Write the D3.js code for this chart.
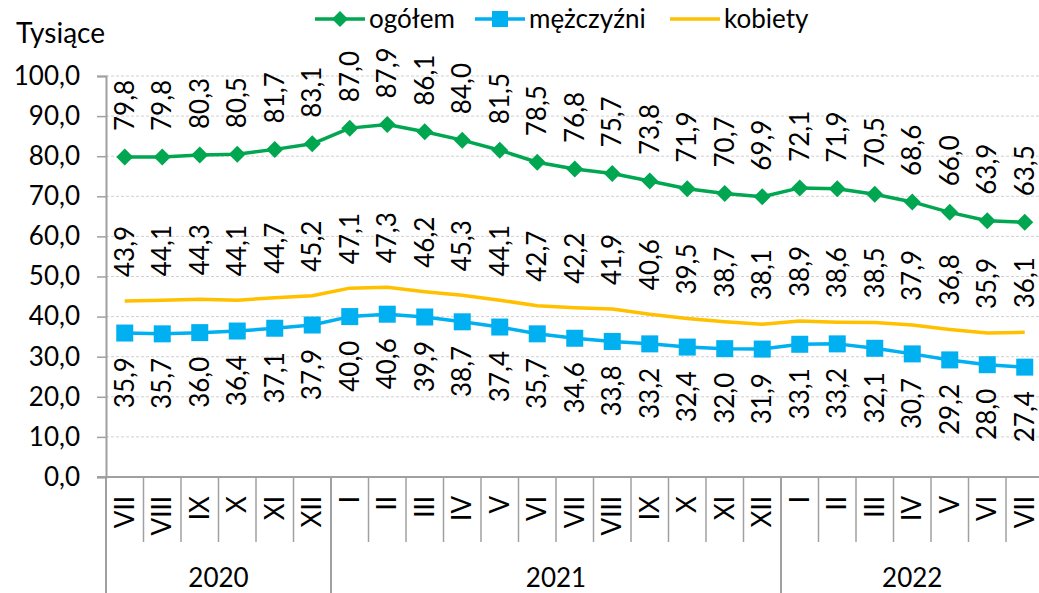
<!DOCTYPE html>
<html>
<head>
  <script src="https://d3js.org/d3.v7.min.js"></script>
  <style>
    body { margin: 0; background: #fff; }
    text { font-family: Lato, "Open Sans", sans-serif; fill: #000; }
  </style>
</head>
<body>
  <script>
    // Data
    const months = ["VII","VIII","IX","X","XI","XII","I","II","III","IV","V","VI","VII","VIII","IX","X","XI","XII","I","II","III","IV","V","VI","VII"];
    const years = [
      {label: "2020", from: 0, to: 5},
      {label: "2021", from: 6, to: 17},
      {label: "2022", from: 18, to: 24}
    ];
    const ogolem = [79.8,79.8,80.3,80.5,81.7,83.1,87.0,87.9,86.1,84.0,81.5,78.5,76.8,75.7,73.8,71.9,70.7,69.9,72.1,71.9,70.5,68.6,66.0,63.9,63.5];
    const mezczyzni = [35.9,35.7,36.0,36.4,37.1,37.9,40.0,40.6,39.9,38.7,37.4,35.7,34.6,33.8,33.2,32.4,32.0,31.9,33.1,33.2,32.1,30.7,29.2,28.0,27.4];
    const kobiety = [43.9,44.1,44.3,44.1,44.7,45.2,47.1,47.3,46.2,45.3,44.1,42.7,42.2,41.9,40.6,39.5,38.7,38.1,38.9,38.6,38.5,37.9,36.8,35.9,36.1];
    const yTicks = [0,10,20,30,40,50,60,70,80,90,100];

    const W = 1039, H = 593;
    const pLeft = 106, pRight = 1043.5, pTop = 76, pBottom = 477;
    const fs = 26;
    const fmt = v => d3.format(".1f")(v).replace(".", ",");

    const svg = d3.select("body").append("svg")
      .attr("width", W).attr("height", H);

    const idx = months.map((m, i) => i);
    const x = d3.scaleBand().domain(idx).range([pLeft, pRight]).padding(0);
    const y = d3.scaleLinear().domain([0, 100]).range([pBottom, pTop]);
    const cx = i => x(i) + x.bandwidth() / 2;

    // Gridlines
    svg.append("g").selectAll("line")
      .data(yTicks.filter(d => d > 0))
      .join("line")
        .attr("x1", pLeft).attr("x2", pRight)
        .attr("y1", d => y(d)).attr("y2", d => y(d))
        .attr("stroke", "#d0d0d0").attr("stroke-dasharray", "3,2");

    // Y axis
    const yAxis = svg.append("g")
      .attr("transform", `translate(${pLeft},0)`)
      .call(d3.axisLeft(y).tickValues(yTicks).tickFormat(fmt).tickSize(9).tickPadding(17));
    yAxis.select(".domain").attr("stroke", "#a0a0a0").attr("stroke-width", 2);
    yAxis.selectAll(".tick line").attr("stroke", "#a0a0a0").attr("stroke-width", 1.5);
    yAxis.selectAll(".tick text").attr("font-size", fs).attr("font-family", "Lato");

    // X axis line
    svg.append("line")
      .attr("x1", pLeft - 9).attr("x2", pRight)
      .attr("y1", pBottom).attr("y2", pBottom)
      .attr("stroke", "#a0a0a0").attr("stroke-width", 2);

    // Month separators
    svg.append("g").selectAll("line")
      .data(idx.slice(1))
      .join("line")
        .attr("x1", d => x(d)).attr("x2", d => x(d))
        .attr("y1", pBottom).attr("y2", 542)
        .attr("stroke", "#a0a0a0").attr("stroke-width", 1.5);

    // Year separators
    const yearEdges = [0, 6, 18];
    svg.append("g").selectAll("line")
      .data(yearEdges)
      .join("line")
        .attr("x1", d => x(d)).attr("x2", d => x(d))
        .attr("y1", pBottom).attr("y2", H)
        .attr("stroke", "#a0a0a0").attr("stroke-width", 2);

    // Month labels
    svg.append("g").selectAll("text")
      .data(months)
      .join("text")
        .attr("transform", (d, i) => `translate(${cx(i) + 9},496) rotate(-90)`)
        .attr("text-anchor", "end")
        .attr("font-size", fs)
        .text(d => d);

    // Year labels
    svg.append("g").selectAll("text")
      .data(years)
      .join("text")
        .attr("x", d => (x(d.from) + x(d.to) + x.bandwidth()) / 2)
        .attr("y", 587)
        .attr("text-anchor", "middle")
        .attr("font-size", fs)
        .text(d => d.label);

    // Axis title
    svg.append("text")
      .attr("x", 16).attr("y", 43)
      .attr("font-size", 28)
      .text("Tysiące");

    const line = d3.line().x((d, i) => cx(i)).y(d => y(d));

    const series = [
      {name: "ogółem", values: ogolem, color: "#00A650", marker: "diamond", labelPos: "above", off: 26},
      {name: "mężczyźni", values: mezczyzni, color: "#00B0F0", marker: "square", labelPos: "below", off: 24},
      {name: "kobiety", values: kobiety, color: "#FFC000", marker: "none", labelPos: "above", off: 24}
    ];

    // Draw order: kobiety, mężczyźni, ogółem
    [series[2], series[1], series[0]].forEach(s => {
      svg.append("path")
        .datum(s.values)
        .attr("fill", "none")
        .attr("stroke", s.color)
        .attr("stroke-width", 3.5)
        .attr("stroke-linejoin", "round")
        .attr("d", line);

      if (s.marker === "diamond") {
        svg.append("g").selectAll("path")
          .data(s.values)
          .join("path")
            .attr("transform", (d, i) => `translate(${cx(i)},${y(d)})`)
            .attr("d", "M0,-8.5L8.5,0L0,8.5L-8.5,0Z")
            .attr("fill", s.color);
      } else if (s.marker === "square") {
        svg.append("g").selectAll("rect")
          .data(s.values)
          .join("rect")
            .attr("x", (d, i) => cx(i) - 8.5)
            .attr("y", d => y(d) - 8.5)
            .attr("width", 17).attr("height", 17)
            .attr("fill", s.color);
      }

      // Data labels
      svg.append("g").selectAll("text")
        .data(s.values)
        .join("text")
          .attr("transform", (d, i) => {
            const yy = s.labelPos === "above" ? y(d) - s.off : y(d) + s.off;
            return `translate(${cx(i) + 9},${yy}) rotate(-90)`;
          })
          .attr("text-anchor", s.labelPos === "above" ? "start" : "end")
          .attr("font-size", fs)
          .text(d => fmt(d));
    });

    // Legend
    const legend = svg.append("g");
    const legendItems = [
      {s: series[0], x: 315, tx: 369},
      {s: series[1], x: 475, tx: 529},
      {s: series[2], x: 670, tx: 724}
    ];
    legendItems.forEach(it => {
      const g = legend.append("g");
      g.append("line")
        .attr("x1", it.x).attr("x2", it.x + 50)
        .attr("y1", 19).attr("y2", 19)
        .attr("stroke", it.s.color).attr("stroke-width", 3.5);
      if (it.s.marker === "diamond") {
        g.append("path")
          .attr("transform", `translate(${it.x + 25},19)`)
          .attr("d", "M0,-8L8,0L0,8L-8,0Z")
          .attr("fill", it.s.color);
      } else if (it.s.marker === "square") {
        g.append("rect")
          .attr("x", it.x + 17).attr("y", 11)
          .attr("width", 16).attr("height", 16)
          .attr("fill", it.s.color);
      }
      g.append("text")
        .attr("x", it.tx).attr("y", 28)
        .attr("font-size", fs)
        .text(it.s.name);
    });
  </script>
</body>
</html>
